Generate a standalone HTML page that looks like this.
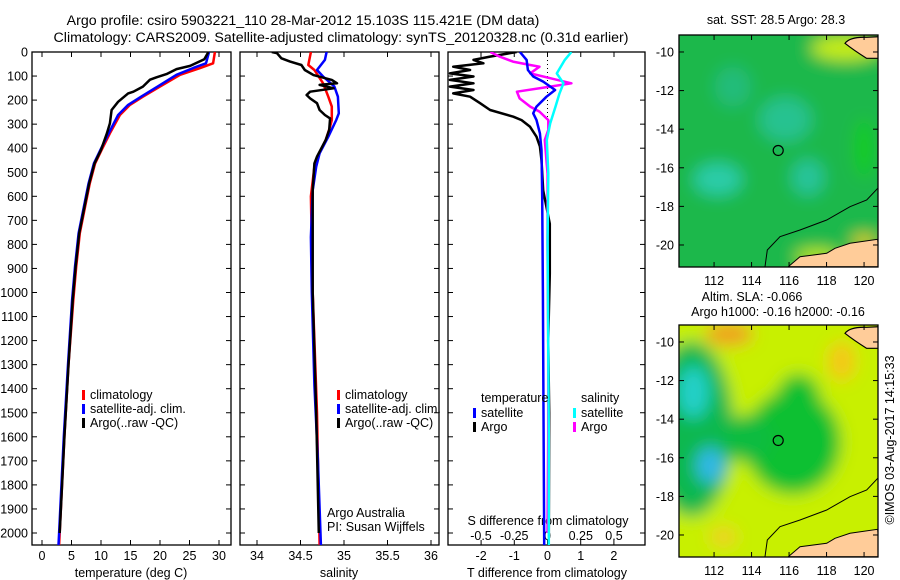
<!DOCTYPE html>
<html><head><meta charset="utf-8"><style>
html,body{margin:0;padding:0;background:#fff;}
svg{display:block;font-family:"Liberation Sans",sans-serif;}
text{fill:#000;}
</style></head><body>
<svg id="c" width="900" height="580" viewBox="0 0 900 580" xmlns="http://www.w3.org/2000/svg">
<defs>
<filter id="blur" x="-50%" y="-50%" width="200%" height="200%"><feGaussianBlur stdDeviation="8"/></filter>
<clipPath id="m1clip"><rect x="679" y="35" width="199" height="232"/></clipPath>
<clipPath id="m2clip"><rect x="679" y="325" width="199" height="232"/></clipPath>
<clipPath id="p1clip"><rect x="32" y="52" width="199" height="493"/></clipPath>
<clipPath id="p2clip"><rect x="240" y="52" width="199" height="493"/></clipPath>
<clipPath id="p3clip"><rect x="448" y="52" width="197" height="493"/></clipPath>
</defs>
<text x="303" y="25" font-size="14.2" text-anchor="middle">Argo profile: csiro 5903221_110 28-Mar-2012 15.103S 115.421E (DM data)</text>
<text x="341" y="42" font-size="14.2" text-anchor="middle">Climatology: CARS2009. Satellite-adjusted climatology: synTS_20120328.nc (0.31d earlier)</text>
<g id="maps"></g>
<g id="plots"></g>
<text transform="translate(894,440) rotate(-90)" font-size="12.5" text-anchor="middle">©IMOS 03-Aug-2017 14:15:33</text>
</svg>
<script>
// ---------- DATA ----------
const depthTicks = [0,100,200,300,400,500,600,700,800,900,1000,1100,1200,1300,1400,1500,1600,1700,1800,1900,2000];
const tempTicks = [0,5,10,15,20,25,30];
const salTicks = [34,34.5,35,35.5,36];
const salTickLabels = ['34','34.5','35','35.5','36'];
const tdiffTicks = [-2,-1,0,1,2];
const sdiffTicks = [-0.5,-0.25,0,0.25,0.5];
const sdiffTickLabels = ['-0.5','-0.25','0','0.25','0.5'];

const climTDepth = [0,47,67,95,144,186,220,262,338,407,463,546,643,754,893,1031,1300,1600,2000,2050];
const climTVal   = [29.3,29.0,26.8,23.4,20.0,17.1,14.9,13.2,11.5,10.1,9.0,8.1,7.3,6.4,5.8,5.3,4.5,3.8,3.0,2.9];
const satTDepth  = [0,47,67,95,144,186,220,262,338,407,463,546,643,754,893,1031,1300,1600,2000,2050];
const satTVal    = [28.3,27.8,25.6,22.8,19.6,16.8,14.6,12.9,11.3,9.9,8.8,7.9,7.1,6.2,5.6,5.1,4.4,3.7,2.9,2.8];
const argoTDepth = [0,30,58,71,92,105,115,144,165,172,207,241,297,338,407,463,546,643,754,893,1031,1300,1600,2000];
const argoTVal   = [28.2,27.5,25.1,22.8,21.1,19.4,18.3,17.1,15.5,14.6,12.9,11.8,11.5,11.0,10.0,8.9,8.0,7.2,6.3,5.7,5.2,4.5,3.8,3.0];

const climSDepth = [0,54,75,130,186,227,283,310,366,435,477,600,1000,1500,2050];
const climSVal   = [34.62,34.59,34.66,34.76,34.82,34.86,34.86,34.84,34.79,34.70,34.66,34.62,34.64,34.69,34.72];
const satSDepth  = [0,33,75,102,144,186,255,283,352,421,477,575,770,1000,1385,1696,2050];
const satSVal    = [34.80,34.78,34.69,34.76,34.89,34.93,34.94,34.91,34.82,34.72,34.68,34.64,34.62,34.63,34.66,34.70,34.735];
const argoSDepth = [0,5,26,40,54,75,96,116,130,137,151,165,179,193,213,241,262,276,324,366,435,463,575,1000,1500,2000];
const argoSVal   = [34.17,34.23,34.28,34.38,34.51,34.55,34.65,34.86,34.92,34.72,34.88,34.61,34.57,34.61,34.69,34.72,34.78,34.84,34.83,34.79,34.69,34.66,34.64,34.64,34.68,34.71];

const dTSatDepth = [0,33,75,102,123,158,186,227,255,283,338,407,600,1000,1500,2050];
const dTSatVal   = [-0.83,-0.63,-0.59,-0.43,-0.13,0.23,-0.03,-0.33,-0.43,-0.33,-0.23,-0.18,-0.16,-0.14,-0.12,-0.10];
const dTArgoDepth = [0,19,33,47,61,75,89,102,116,130,144,158,172,186,213,241,269,283,310,352,393,450,576,714,922,1200,1500,2000];
const dTArgoVal   = [-0.93,-1.73,-2.23,-1.93,-2.84,-2.33,-2.94,-2.23,-2.94,-2.23,-2.94,-2.23,-2.84,-2.33,-2.03,-1.73,-1.03,-0.78,-0.53,-0.33,-0.23,-0.18,-0.13,0.07,0.07,0.02,0.05,0.04];
const dSSatDepth = [0,33,89,130,172,227,297,366,505,782,1200,1600,2050];
const dSSatVal   = [0.18,0.13,0.07,0.12,0.09,0.06,0.02,-0.005,0.006,0.001,0.005,0.01,0.01];
const dSArgoDepth = [0,19,40,54,61,89,109,130,144,165,193,227,248,283,324,366,463,505,800,1200,1600,2000];
const dSArgoVal   = [-0.43,-0.36,-0.26,-0.13,-0.06,-0.13,0.02,0.18,0.02,-0.23,-0.21,-0.13,-0.06,0.006,0.006,-0.02,-0.006,0.001,0.0,0.005,0.005,0.0];

const lonTicks = [112,114,116,118,120];
const latTicks = [-10,-12,-14,-16,-18,-20];
const argoLon = 115.421, argoLat = -15.103;

// ---------- HELPERS ----------
const NS='http://www.w3.org/2000/svg';
function mk(tag, attrs, parent){const e=document.createElementNS(NS,tag);for(const k in attrs)e.setAttribute(k,attrs[k]);parent.appendChild(e);return e;}
const plots=document.getElementById('plots');
const maps=document.getElementById('maps');
const yD = d => 52 + d*0.2405;
const PB = 545;

function frame(x0,x1,name){
  const r=mk('rect',{x:x0,y:52,width:x1-x0,height:PB-52,fill:'none',stroke:'#000','stroke-width':1.3},plots);
  
  
  depthTicks.forEach(d=>{
    mk('line',{x1:x0,x2:x0+5,y1:yD(d),y2:yD(d),stroke:'#000'},plots);
    mk('line',{x1:x1-5,x2:x1,y1:yD(d),y2:yD(d),stroke:'#000'},plots);
  });
}
function xticks(vals,labels,fx,y,top,name){
  vals.forEach((v,i)=>{
    const x=fx(v);
    mk('line',{x1:x,x2:x,y1:PB,y2:PB-5,stroke:'#000'},plots);
    if(top) mk('line',{x1:x,x2:x,y1:52,y2:57,stroke:'#000'},plots);
    const t=mk('text',{x:x,y:y,'font-size':12.5,'text-anchor':'middle'},plots);
    t.textContent=labels[i];
    
    
  });
}
function series(ds,vs,fx,color,clip,name,w){
  const pts=ds.map((d,i)=>fx(vs[i]).toFixed(1)+','+yD(d).toFixed(1)).join(' ');
  const p=mk('polyline',{points:pts,fill:'none',stroke:color,'stroke-width':w||2.5,'clip-path':'url(#'+clip+')','stroke-linejoin':'round'},plots);
  
  
}
function label(x,y,txt,name,anchor,size){
  const t=mk('text',{x:x,y:y,'font-size':size||12.5,'text-anchor':anchor||'start'},plots);
  t.textContent=txt;
  
  
  return t;
}
function legendEntry(x,y,color,txt,name){
  const r=mk('rect',{x:x,y:y-8,width:3,height:10,fill:color},plots);
  
  
  label(x+8,y+1,txt,name);
}

depthTicks.forEach(d=>{
  label(28,yD(d)+4.5,String(d),'depth-tick-label','end',12.5);
});

// ---------- PANEL 1: temperature ----------
const xT = v => 42 + v*5.9;
frame(32,231,'temperature-panel');
xticks(tempTicks,tempTicks.map(String),xT,560,true,'temperature');
label(131,577,'temperature (deg C)','temperature-axis-title','middle');
series(climTDepth,climTVal,xT,'#ff0000','p1clip','temp-climatology-line');
series(satTDepth,satTVal,xT,'#0000ff','p1clip','temp-satellite-line');
series(argoTDepth,argoTVal,xT,'#000000','p1clip','temp-argo-line');
legendEntry(82,398,'#ff0000','climatology','legend-climatology');
legendEntry(82,412,'#0000ff','satellite-adj. clim.','legend-satellite');
legendEntry(82,426,'#000000','Argo(..raw -QC)','legend-argo');

// ---------- PANEL 2: salinity ----------
const xS = v => 257 + (v-34)*87;
frame(240,439,'salinity-panel');
xticks(salTicks,salTickLabels,xS,560,true,'salinity');
label(339,577,'salinity','salinity-axis-title','middle');
series(climSDepth,climSVal,xS,'#ff0000','p2clip','sal-climatology-line');
series(satSDepth,satSVal,xS,'#0000ff','p2clip','sal-satellite-line');
series(argoSDepth,argoSVal,xS,'#000000','p2clip','sal-argo-line');
legendEntry(337,398,'#ff0000','climatology','legend-sal-climatology');
legendEntry(337,412,'#0000ff','satellite-adj. clim.','legend-sal-satellite');
legendEntry(337,426,'#000000','Argo(..raw -QC)','legend-sal-argo');
label(327,517,'Argo Australia','argo-australia-label');
label(327,531,'PI: Susan Wijffels','pi-label');

// ---------- PANEL 3: differences ----------
const xdT = v => 547.5 + v*33.2;
const xdS = v => 547.5 + v*133;
frame(448,645,'difference-panel');
xticks(tdiffTicks,tdiffTicks.map(String),xdT,560,false,'tdiff');
sdiffTicks.forEach((v,i)=>{
  const x=xdS(v);
  mk('line',{x1:x,x2:x,y1:52,y2:57,stroke:'#000'},plots);
  label(x,540,sdiffTickLabels[i],'sdiff-tick-label','middle');
});
mk('line',{x1:xdT(0),x2:xdT(0),y1:56,y2:120,stroke:'#000','stroke-dasharray':'1,3'},plots);
label(548,525,'S difference from climatology','sdiff-axis-title','middle');
label(547,577,'T difference from climatology','tdiff-axis-title','middle');
series(dTArgoDepth,dTArgoVal,xdT,'#000000','p3clip','tdiff-argo-line');
series(dSArgoDepth,dSArgoVal,xdS,'#ff00ff','p3clip','sdiff-argo-line');
series(dSSatDepth,dSSatVal,xdS,'#00ffff','p3clip','sdiff-satellite-line');
series(dTSatDepth,dTSatVal,xdT,'#0000ff','p3clip','tdiff-satellite-line');
label(481,402,'temperature','legend-temperature-header');
legendEntry(473,416,'#0000ff','satellite','legend-tdiff-satellite');
legendEntry(473,430,'#000000','Argo','legend-tdiff-argo');
label(581,402,'salinity','legend-salinity-header');
legendEntry(573,416,'#00ffff','satellite','legend-sdiff-satellite');
legendEntry(573,430,'#ff00ff','Argo','legend-sdiff-argo');

// ---------- MAPS ----------
const mxL = v => 679 + (v-110.13)*18.75;
function drawMap(y0,clip,kind,name){
  const yL = v => y0 + (-9.12 - v)*19.3;
  const g=mk('g',{'clip-path':'url(#'+clip+')'},maps);
  
  
  const bl=mk('g',{filter:'url(#blur)'},g);
  if(kind==='sst'){
    mk('rect',{x:650,y:y0-30,width:260,height:290,fill:'#1fb84c'},bl);
    mk('ellipse',{cx:mxL(112.2),cy:yL(-16.6),rx:24,ry:16,fill:'#2ccca8'},bl);
    mk('ellipse',{cx:mxL(117),cy:yL(-16.5),rx:16,ry:18,fill:'#28c49a'},bl);
    mk('ellipse',{cx:mxL(115.8),cy:yL(-13.5),rx:26,ry:22,fill:'#26c290'},bl);
    mk('ellipse',{cx:mxL(113),cy:yL(-11.8),rx:18,ry:20,fill:'#24bc7a'},bl);
    mk('ellipse',{cx:mxL(119),cy:yL(-9.8),rx:34,ry:12,fill:'#c8ee10'},bl);
    mk('ellipse',{cx:mxL(117.5),cy:yL(-20.6),rx:22,ry:7,fill:'#c8ee10'},bl);
    mk('ellipse',{cx:mxL(120),cy:yL(-19.8),rx:12,ry:6,fill:'#f0d000'},bl);
    mk('ellipse',{cx:mxL(120),cy:yL(-15),rx:10,ry:30,fill:'#18cc20'},bl);
  } else {
    mk('rect',{x:650,y:y0-30,width:260,height:290,fill:'#c8f000'},bl);
    mk('ellipse',{cx:mxL(112.8),cy:yL(-9.6),rx:24,ry:12,fill:'#f0a020'},bl);
    mk('ellipse',{cx:mxL(118.8),cy:yL(-11),rx:14,ry:20,fill:'#f4c818'},bl);
    mk('ellipse',{cx:mxL(112.5),cy:yL(-20.1),rx:14,ry:10,fill:'#f0d020'},bl);
    mk('ellipse',{cx:mxL(110.8),cy:yL(-14.5),rx:42,ry:88,fill:'#10b850'},bl);
    mk('ellipse',{cx:mxL(116.2),cy:yL(-15.2),rx:48,ry:52,fill:'#0cc030'},bl);
    mk('ellipse',{cx:mxL(116.5),cy:yL(-13),rx:22,ry:26,fill:'#0cc030'},bl);
    mk('ellipse',{cx:mxL(113.8),cy:yL(-15),rx:24,ry:24,fill:'#10bc40'},bl);
    mk('ellipse',{cx:mxL(110.9),cy:yL(-12.6),rx:16,ry:26,fill:'#20d0c8'},bl);
    mk('ellipse',{cx:mxL(111.8),cy:yL(-16.4),rx:14,ry:18,fill:'#30b8e8'},bl);
  }
  const land=[[650+415/3,800/3],[650+450/3,770/3],[650+530/3,760/3],[650+555/3,745/3],[650+600/3,730/3],[650+683/3,718/3],[880,800/3],[650+415/3,800/3]].map(p=>p[0].toFixed(1)+','+(p[1]+y0-35).toFixed(1)).join(' ');
  mk('polygon',{points:land,fill:'#ffcc99',stroke:'#000','stroke-width':1},g);
  mk('path',{d:`M${650+585/3},${y0-35+130/3} Q${650+600/3},${y0-35+110/3} ${650+650/3},${y0-35+112/3} L880,${y0-35+110/3} L880,${y0-35+175/3} L${650+650/3},${y0-35+175/3} Q${650+610/3},${y0-35+150/3} ${650+585/3},${y0-35+130/3}Z`,fill:'#ffcc99',stroke:'#000','stroke-width':1.2},g);
  const coast=[[345,800],[352,750],[390,710],[450,690],[530,660],[600,620],[650,600],[683,565]].map(p=>(650+p[0]/3).toFixed(1)+','+(y0-35+p[1]/3).toFixed(1)).join(' ');
  mk('polyline',{points:coast,fill:'none',stroke:'#000','stroke-width':1},g);
  const c=mk('circle',{cx:mxL(argoLon),cy:yL(argoLat),r:5,fill:'none',stroke:'#000','stroke-width':1.2},maps);
  
  
  const fr=mk('rect',{x:679,y:y0,width:199,height:232,fill:'none',stroke:'#000','stroke-width':1.3},maps);
  
  
  lonTicks.forEach(v=>{
    const x=mxL(v);
    mk('line',{x1:x,x2:x,y1:y0,y2:y0+5,stroke:'#000'},maps);
    mk('line',{x1:x,x2:x,y1:y0+232,y2:y0+227,stroke:'#000'},maps);
    const t=mk('text',{x:x,y:y0+250,'font-size':12.5,'text-anchor':'middle'},maps);
    t.textContent=String(v);
    
    
  });
  latTicks.forEach(v=>{
    const y=yL(v);
    mk('line',{x1:679,x2:684,y1:y,y2:y,stroke:'#000'},maps);
    mk('line',{x1:873,x2:878,y1:y,y2:y,stroke:'#000'},maps);
    const t=mk('text',{x:674,y:y+4.5,'font-size':12.5,'text-anchor':'end'},maps);
    t.textContent=String(v);
    
    
  });
}
drawMap(35,'m1clip','sst','sst-map');
drawMap(325,'m2clip','sla','sla-map');
function mtext(x,y,txt,name){
  const t=mk('text',{x:x,y:y,'font-size':12.5,'text-anchor':'middle'},maps);
  t.textContent=txt;
  
  
}
mtext(776,24,'sat. SST: 28.5 Argo: 28.3','sst-map-title');
mtext(752,301,'Altim. SLA: -0.066','sla-map-title');
mtext(778,316,'Argo h1000: -0.16 h2000: -0.16','argo-height-title');
</script>
</body></html>
